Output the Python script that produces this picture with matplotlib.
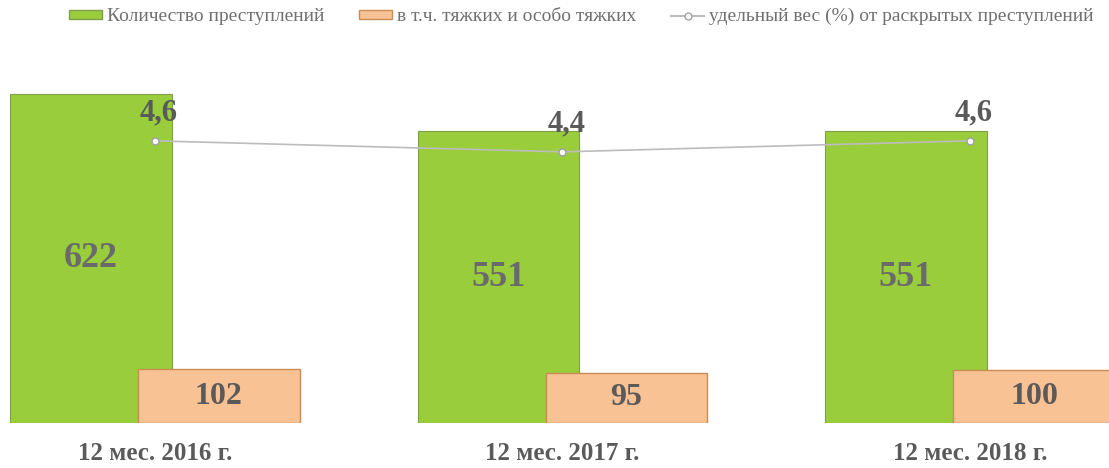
import numpy as np
import matplotlib.pyplot as plt
from matplotlib.patches import Patch
from matplotlib.lines import Line2D

# данные
periods = ['12 мес. 2016 г.', '12 мес. 2017 г.', '12 мес. 2018 г.']
crimes_total = [622, 551, 551]
crimes_grave = [102, 95, 100]
share_pct = [4.6, 4.4, 4.6]

green = '#99cd3c'
orange = '#f9c294'
txt_color = '#5a5a5a'
serif = 'Liberation Serif'

fig = plt.figure(figsize=(11.09, 4.68), dpi=100)
ax = fig.add_axes([0, 45 / 468, 1, 363 / 468])

x = np.arange(len(periods))
w = 0.397
off = 0.157

ax.bar(x - off, crimes_total, w, color=green, edgecolor='#7f9f48', linewidth=0.8, zorder=2)
ax.bar(x + off, crimes_grave, w, color=orange, edgecolor='#c98c55', linewidth=1.0, zorder=3)

for xi, v in zip(x - off, crimes_total):
    ax.text(xi, v / 2, str(v), ha='center', va='center', fontsize=26, fontweight='bold',
            family=serif, color='#6a6a6a', zorder=4)
for xi, v in zip(x + off, crimes_grave):
    ax.text(xi, v / 2, str(v), ha='center', va='center', fontsize=23, fontweight='bold',
            family=serif, color=txt_color, zorder=4)

ax.set_xlim(-0.38, 2.341)
ax.set_ylim(0, 686)
ax.set_yticks([])
ax.set_xticks(x)
ax.set_xticklabels(periods, fontsize=18, fontweight='bold', family=serif, color=txt_color)
ax.tick_params(axis='x', length=0, pad=14)
for s in ax.spines.values():
    s.set_visible(False)

# линия удельного веса на второй оси
ax2 = ax.twinx()
ax2.plot(x, share_pct, color='#bcbcbc', linewidth=1.2, marker='o', markersize=5,
         markerfacecolor='white', markeredgecolor='#a0a0a0', zorder=5)
for xi, v in zip(x, share_pct):
    ax2.annotate(f'{v:.1f}'.replace('.', ','), xy=(xi, v), xytext=(4, 28),
                 textcoords='offset pixels', ha='center', va='center', fontsize=22,
                 fontweight='bold', family=serif, color=txt_color)
ax2.set_ylim(-0.53, 6.07)
ax2.set_yticks([])
for s in ax2.spines.values():
    s.set_visible(False)

handles = [
    Patch(facecolor=green, edgecolor='#7f9f48'),
    Patch(facecolor=orange, edgecolor='#c98c55'),
    Line2D([0], [0], color='#bcbcbc', marker='o', markersize=5,
           markerfacecolor='white', markeredgecolor='#a0a0a0'),
]
labels = ['Количество преступлений', 'в т.ч. тяжких и особо тяжких',
          'удельный вес (%) от раскрытых преступлений']
fig.legend(handles, labels, loc='upper center', bbox_to_anchor=(0.524, 1.02), ncol=3,
           frameon=False, prop={'family': serif, 'size': 14}, labelcolor='#707070',
           handlelength=1.7, handleheight=0.3, handletextpad=0.25, columnspacing=1.8)

fig.savefig('out.png', dpi=100)
